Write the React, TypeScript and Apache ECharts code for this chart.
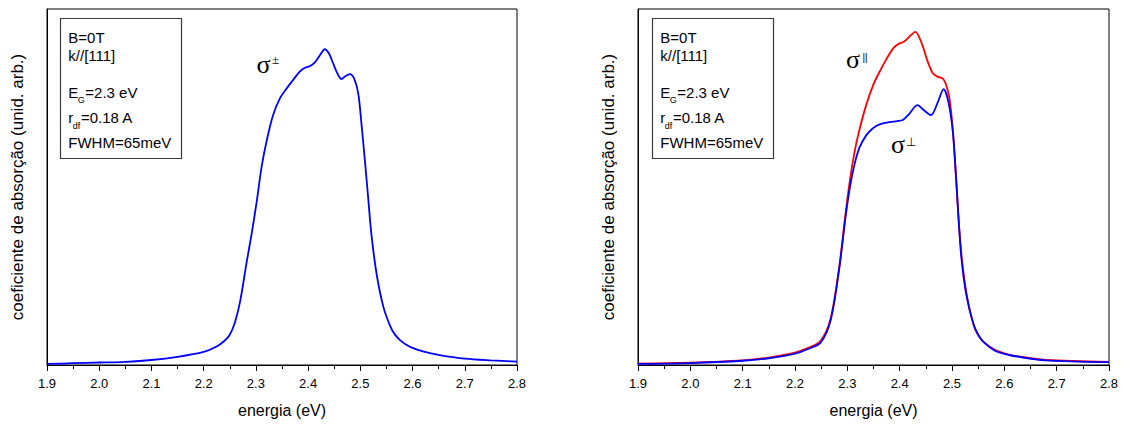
import React, { useEffect, useRef } from "react";
import * as echarts from "echarts";

// ---------- data (y in arbitrary units 0..100) ----------
const xTicks = ["1.9", "2.0", "2.1", "2.2", "2.3", "2.4", "2.5", "2.6", "2.7", "2.8"];

const energyPM = [1.90, 1.95, 2.00, 2.05, 2.10, 2.15, 2.20, 2.225, 2.24, 2.25, 2.26, 2.27, 2.282, 2.292, 2.302, 2.311, 2.321, 2.333, 2.346, 2.359, 2.372, 2.384, 2.394, 2.404, 2.413, 2.423, 2.432, 2.440, 2.448, 2.456, 2.464, 2.472, 2.480, 2.488, 2.496, 2.502, 2.509, 2.515, 2.521, 2.531, 2.544, 2.557, 2.566, 2.576, 2.588, 2.600, 2.620, 2.652, 2.70, 2.75, 2.80];
const sigmaPM = [0.3, 0.5, 0.7, 0.9, 1.4, 2.3, 3.7, 5.2, 6.8, 8.5, 12.0, 18.0, 28.6, 37.0, 46.3, 55.7, 63.2, 70.2, 74.9, 77.7, 80.2, 82.4, 83.5, 84.0, 85.0, 87.1, 88.7, 87.5, 84.7, 81.9, 80.3, 81.2, 81.7, 80.5, 76.3, 68.0, 57.0, 47.0, 37.0, 25.7, 16.4, 11.0, 8.6, 7.0, 5.7, 4.8, 3.8, 2.8, 1.8, 1.3, 0.95];

const energyPar = [1.90, 2.00, 2.10, 2.15, 2.20, 2.225, 2.249, 2.268, 2.284, 2.297, 2.305, 2.314, 2.323, 2.336, 2.349, 2.362, 2.375, 2.388, 2.398, 2.408, 2.417, 2.430, 2.443, 2.453, 2.463, 2.472, 2.482, 2.488, 2.495, 2.501, 2.508, 2.514, 2.521, 2.531, 2.543, 2.553, 2.563, 2.582, 2.600, 2.615, 2.68, 2.80];
const sigmaPar = [0.4, 0.66, 1.3, 2.1, 3.5, 4.8, 6.8, 13.0, 27.0, 43.0, 52.0, 60.0, 66.0, 73.0, 78.5, 82.5, 86.0, 89.0, 90.2, 90.8, 92.0, 93.6, 90.0, 85.5, 82.0, 81.0, 80.5, 79.0, 75.0, 67.0, 52.0, 38.0, 27.0, 17.5, 10.5, 7.8, 6.1, 4.3, 3.3, 2.7, 1.4, 0.9];

const energyPerp = [1.90, 2.00, 2.10, 2.15, 2.20, 2.225, 2.249, 2.268, 2.284, 2.297, 2.305, 2.314, 2.323, 2.336, 2.349, 2.362, 2.380, 2.395, 2.406, 2.418, 2.434, 2.447, 2.460, 2.472, 2.484, 2.493, 2.502, 2.508, 2.513, 2.518, 2.527, 2.540, 2.550, 2.560, 2.582, 2.600, 2.615, 2.68, 2.80];
const sigmaPerp = [0.3, 0.55, 1.2, 1.9, 3.2, 4.5, 6.3, 12.5, 26.5, 42.0, 50.0, 56.5, 61.0, 64.5, 66.5, 67.6, 68.2, 68.5, 68.8, 70.5, 73.0, 71.5, 70.2, 73.5, 77.5, 74.0, 65.0, 52.0, 40.0, 30.0, 20.0, 12.0, 8.5, 6.5, 4.0, 3.1, 2.6, 1.3, 0.8];

const infoLines = ["B=0T", "k//[111]", "", "E|G|=2.3 eV", "r|df|=0.18 A", "FWHM=65meV"];

const pairs = (xs: number[], ys: number[]) => xs.map((x, i) => [x, ys[i]]);

const SANS = "Liberation Sans";
const SERIF = "Liberation Serif";

function infoBox(bx: number): any[] {
  const tx = bx + 7.8;
  const els: any[] = [
    {
      type: "rect",
      shape: { x: bx, y: 18.5, width: 121, height: 140 },
      style: { fill: "#fff", stroke: "#3a3a3a", lineWidth: 1.2 },
      z: 10,
    },
  ];
  const ys = [37, 55, 0, 92, 117.5, 142];
  infoLines.forEach((line, i) => {
    if (!line) return;
    const parts = line.split("|");
    if (parts.length === 1) {
      els.push({
        type: "text",
        x: tx,
        y: ys[i],
        z: 11,
        style: { text: line, font: `15px "${SANS}"`, fill: "#000", verticalAlign: "middle", align: "left" },
      });
    } else {
      const [a, sub, b] = parts;
      const aw = a === "E" ? 10 : 5;
      const sw = sub === "G" ? 7 : 7.6;
      els.push({
        type: "text", x: tx, y: ys[i], z: 11,
        style: { text: a, font: `15px "${SANS}"`, fill: "#000", verticalAlign: "middle", align: "left" },
      });
      els.push({
        type: "text", x: tx + aw - 0.5, y: ys[i] + 8, z: 11,
        style: { text: sub, font: `9px "${SANS}"`, fill: "#000", verticalAlign: "middle", align: "left" },
      });
      els.push({
        type: "text", x: tx + aw + sw, y: ys[i], z: 11,
        style: { text: b, font: `15px "${SANS}"`, fill: "#000", verticalAlign: "middle", align: "left" },
      });
    }
  });
  return els;
}

export default function App() {
  const ref = useRef<HTMLDivElement>(null);
  useEffect(() => {
    document.body.style.margin = "0";
    const chart = echarts.init(ref.current!, undefined, { renderer: "svg" });
    const xAxisBase = (gridIndex: number) => ({
      type: "value",
      gridIndex,
      min: 1.9,
      max: 2.8,
      interval: 0.1,
      name: "energia (eV)",
      nameLocation: "middle",
      nameGap: 37,
      nameTextStyle: { fontFamily: SANS, fontSize: 16, color: "#000" },
      axisLine: { show: true, onZero: false, lineStyle: { color: "#000", width: 1 } },
      axisTick: { show: true, inside: false, length: 6, lineStyle: { color: "#000", width: 1 } },
      minorTick: { show: true, splitNumber: 2, length: 4, lineStyle: { color: "#000", width: 1 } },
      axisLabel: {
        show: true,
        margin: 12,
        fontFamily: SANS,
        fontSize: 13,
        color: "#000",
        formatter: (v: number) => {
          const idx = Math.round((v - 1.9) * 10);
          return xTicks[idx] ?? v.toFixed(1);
        },
      },
      splitLine: { show: false },
    });
    const yAxisBase = (gridIndex: number) => ({
      type: "value",
      gridIndex,
      min: 0,
      max: 100,
      name: "coeficiente de absorção (unid. arb.)",
      nameLocation: "middle",
      nameGap: 21,
      nameTextStyle: { fontFamily: SANS, fontSize: 17, color: "#000" },
      axisLine: { show: true, lineStyle: { color: "#000", width: 1 } },
      axisTick: { show: false },
      axisLabel: { show: false },
      splitLine: { show: false },
    });
    const lineSeries = (name: string, xi: number, data: number[][], color: string, z = 2) => ({
      type: "line",
      name,
      xAxisIndex: xi,
      yAxisIndex: xi,
      data,
      showSymbol: false,
      symbol: "none",
      smooth: 0.3,
      lineStyle: { color, width: 1.8 },
      z,
    });
    chart.setOption({
      animation: false,
      backgroundColor: "#fff",
      grid: [
        { left: 47, right: 604, top: 9, bottom: 59, outerBoundsMode: "none", containLabel: false, show: true, borderColor: "#000", borderWidth: 1, backgroundColor: "transparent" },
        { left: 638, right: 12, top: 9, bottom: 59, outerBoundsMode: "none", containLabel: false, show: true, borderColor: "#000", borderWidth: 1, backgroundColor: "transparent" },
      ],
      xAxis: [xAxisBase(0), xAxisBase(1)],
      yAxis: [yAxisBase(0), yAxisBase(1)],
      series: [
        lineSeries("σ±", 0, pairs(energyPM, sigmaPM), "#0000ff"),
        lineSeries("σ∥", 1, pairs(energyPar, sigmaPar), "#ff0000", 2),
        lineSeries("σ⊥", 1, pairs(energyPerp, sigmaPerp), "#0000ff", 3),
      ],
      graphic: [
        ...infoBox(60.5),
        ...infoBox(652.5),
        { type: "text", x: 256.5, y: 64, z: 12, style: { text: "σ", font: `26px "${SERIF}"`, fill: "#000", verticalAlign: "middle" } },
        { type: "text", x: 272, y: 59, z: 12, style: { text: "±", font: `13px "${SERIF}"`, fill: "#000", verticalAlign: "middle" } },
        { type: "text", x: 846, y: 59.5, z: 12, style: { text: "σ", font: `26px "${SERIF}"`, fill: "#000", verticalAlign: "middle" } },
        { type: "text", x: 862.5, y: 57.5, z: 12, style: { text: "||", font: `10px "${SANS}"`, fill: "#000", verticalAlign: "middle" } },
        { type: "text", x: 891, y: 144.5, z: 12, style: { text: "σ", font: `26px "${SERIF}"`, fill: "#000", verticalAlign: "middle" } },
        { type: "text", x: 906, y: 141.5, z: 12, style: { text: "⊥", font: `12px "DejaVu Sans"`, fill: "#000", verticalAlign: "middle" } },
      ],
    });
    return () => chart.dispose();
  }, []);
  return <div ref={ref} style={{ width: 1121, height: 424 }} />;
}
